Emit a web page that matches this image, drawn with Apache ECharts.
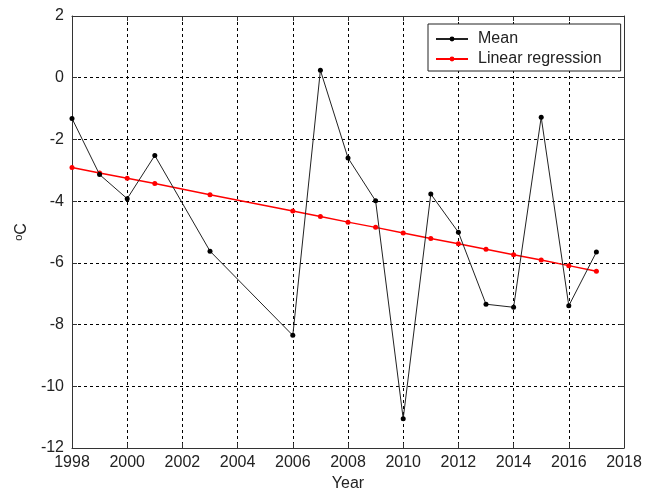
<!DOCTYPE html>
<html>
<head>
<meta charset="utf-8">
<script src="https://cdn.jsdelivr.net/npm/echarts@6/dist/echarts.min.js"></script>
<style>
html,body{margin:0;padding:0;background:#fff;}
#chart{width:653px;height:497px;}
</style>
</head>
<body>
<div id="chart"></div>
<script>
const years = [1998, 1999, 2000, 2001, 2003, 2006, 2007, 2008, 2009, 2010, 2011, 2012, 2013, 2014, 2015, 2016, 2017];
const meanValues = [-1.32, -3.14, -3.92, -2.52, -5.62, -8.35, 0.24, -2.60, -3.99, -11.05, -3.77, -5.01, -7.34, -7.44, -1.28, -7.39, -5.65];
const regressionValues = [-2.91, -3.09, -3.26, -3.43, -3.79, -4.32, -4.50, -4.68, -4.85, -5.03, -5.21, -5.38, -5.56, -5.74, -5.91, -6.09, -6.27];
const xTicks = [1998, 2000, 2002, 2004, 2006, 2008, 2010, 2012, 2014, 2016, 2018];
const yTicks = [-12, -10, -8, -6, -4, -2, 0, 2];
const seriesNames = ['Mean', 'Linear regression'];
const axisNames = { x: 'Year', y: 'C' };

const pairs = (xs, ys) => xs.map((x, i) => [x, ys[i]]);
const FONT = 'Liberation Sans, Arial, sans-serif';
const lineCol = '#333';

const chart = echarts.init(document.getElementById('chart'), null, { renderer: 'canvas' });
const baseAxis = {
  axisLine: { show: true, onZero: false, lineStyle: { color: lineCol, width: 1 } },
  axisTick: { show: true, inside: true, length: 5, lineStyle: { color: lineCol } },
};
chart.setOption({
  animation: false,
  backgroundColor: '#fff',
  grid: { left: 72, right: 29, top: 16, bottom: 45, containLabel: false },
  legend: {
    orient: 'vertical',
    left: 428, top: 24,
    padding: [7, 19, 4, 7],
    itemGap: 4,
    itemWidth: 32, itemHeight: 6,
    backgroundColor: '#fff',
    borderColor: '#222', borderWidth: 1,
    borderRadius: 0,
    data: seriesNames,
    textStyle: { fontFamily: FONT, fontSize: 16, color: '#222', lineHeight: 16, padding: [0, 0, 0, 5] }
  },
  xAxis: [
    Object.assign({}, baseAxis, {
      type: 'value', position: 'bottom', min: xTicks[0], max: xTicks[xTicks.length - 1], interval: 2,
      name: axisNames.x, nameLocation: 'middle', nameGap: 28,
      nameTextStyle: { fontFamily: FONT, fontSize: 16, color: '#222' },
      axisLabel: { margin: 7, fontFamily: FONT, fontSize: 16, color: '#222', formatter: v => String(v) },
      splitLine: { show: true, lineStyle: { color: '#000', type: [3, 3], width: 1 } }
    }),
    Object.assign({}, baseAxis, {
      type: 'value', position: 'top', min: xTicks[0], max: xTicks[xTicks.length - 1], interval: 2,
      axisLabel: { show: false }, splitLine: { show: false }
    })
  ],
  yAxis: [
    Object.assign({}, baseAxis, {
      type: 'value', position: 'left', min: yTicks[0], max: yTicks[yTicks.length - 1], interval: 2,
      name: '{sup|o}' + axisNames.y, nameLocation: 'middle', nameGap: 34, nameRotate: 90,
      nameTextStyle: {
        fontFamily: FONT, fontSize: 16, color: '#222',
        rich: { sup: { fontFamily: FONT, fontSize: 11, color: '#222', verticalAlign: 'top', padding: [0, 0, 6, 0] } }
      },
      axisLabel: { margin: 8, fontFamily: FONT, fontSize: 16, color: '#222', formatter: v => String(v) },
      splitLine: { show: true, lineStyle: { color: '#000', type: [3, 3], width: 1 } }
    }),
    Object.assign({}, baseAxis, {
      type: 'value', position: 'right', min: yTicks[0], max: yTicks[yTicks.length - 1], interval: 2,
      axisLabel: { show: false }, splitLine: { show: false }
    })
  ],
  series: [
    {
      name: seriesNames[0], type: 'line', xAxisIndex: 0, yAxisIndex: 0,
      data: pairs(years, meanValues),
      symbol: 'circle', symbolSize: 5, showSymbol: true,
      lineStyle: { color: '#222', width: 1 },
      itemStyle: { color: '#000' },
      z: 3
    },
    {
      name: seriesNames[1], type: 'line', xAxisIndex: 0, yAxisIndex: 0,
      data: pairs(years, regressionValues),
      symbol: 'circle', symbolSize: 5, showSymbol: true,
      lineStyle: { color: '#ff0000', width: 1.5 },
      itemStyle: { color: '#ff0000' },
      z: 2
    }
  ]
});
</script>
</body>
</html>
